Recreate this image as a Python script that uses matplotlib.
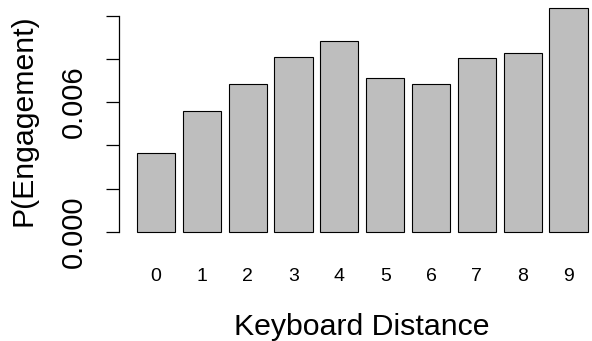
import matplotlib
matplotlib.use('Agg')
import matplotlib.pyplot as plt

# Wahrscheinlichkeit je Tastaturabstand
distance = ['0', '1', '2', '3', '4', '5', '6', '7', '8', '9']
p_engage = [0.00366, 0.00557, 0.00682, 0.00807, 0.00884,
            0.00713, 0.00684, 0.00804, 0.00829, 0.01037]
yticks = [0.000, 0.002, 0.004, 0.006, 0.008, 0.010]
ytick_labels = ['0.000', '', '', '0.006', '', '']

plt.rcParams['font.family'] = ['Liberation Sans', 'DejaVu Sans']

W, H = 592, 341
fig = plt.figure(figsize=(W / 100, H / 100), dpi=100)
ax = fig.add_axes([119 / W, (H - 240.7) / H, (W - 119) / W, 240.7 / H])

# R-artige Positionen: Breite 1, Abstand 0.2
pos = [0.2 + 1.2 * i + 0.5 for i in range(len(distance))]
ax.bar(pos, p_engage, width=1.0, color='#bebebe', edgecolor='black', linewidth=0.8)

ax.set_xlim(-0.272, 12.117)
ax.set_ylim(-0.000415, 0.010727)

for s in ['top', 'right', 'bottom']:
    ax.spines[s].set_visible(False)
ax.spines['left'].set_bounds(0, 0.010)
ax.spines['left'].set_linewidth(0.9)

ax.set_yticks(yticks)
ax.set_yticklabels(ytick_labels, rotation=90, va='center', fontsize=21)
ax.tick_params(axis='y', length=9.6, width=0.9, pad=13)

ax.set_xticks(pos)
ax.set_xticklabels(distance, fontsize=14)
ax.tick_params(axis='x', length=0, pad=20)

fig.text(362 / W, 1 - 335 / H, 'Keyboard Distance', ha='center', va='baseline', fontsize=21.8)
fig.text(24 / W, 1 - 120 / H, 'P(Engagement)', ha='center', va='center', rotation=90, fontsize=21.8)

fig.savefig('out.png', dpi=100)
